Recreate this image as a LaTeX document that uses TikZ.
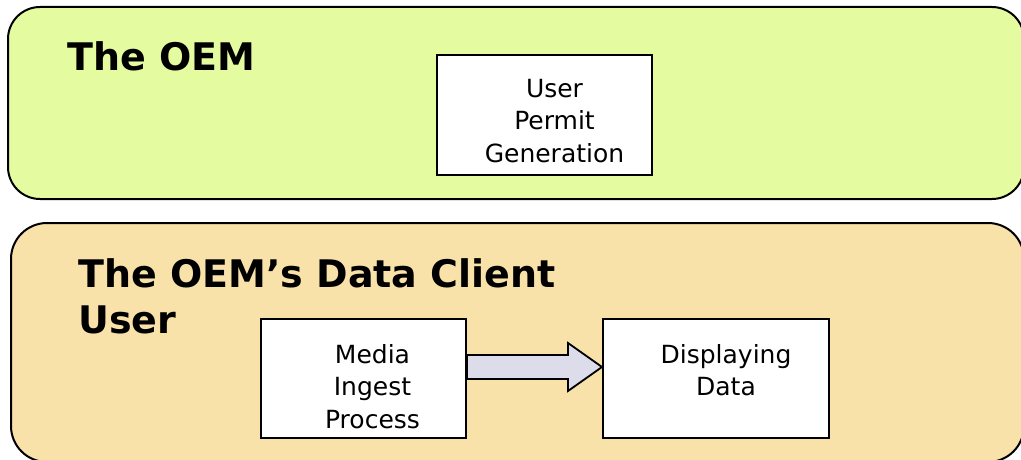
\documentclass[tikz,border=0pt]{standalone}
\usepackage{fontspec}
\setmainfont{DejaVu Sans}
\usetikzlibrary{calc}
\definecolor{oemgreen}{RGB}{229,251,160}
\definecolor{clientbeige}{RGB}{249,226,170}
\definecolor{arrowfill}{RGB}{221,220,234}
\tikzset{
  outerbox/.style={draw=black, line width=2pt, inner sep=0pt},
  innerbox/.style={draw=black, line width=2pt, fill=white, inner sep=0pt},
  boxtext/.style={inner sep=0pt, align=center, font=\fontsize{25}{32.5}\selectfont},
  titletext/.style={inner sep=0pt, align=left, anchor=base west, font=\bfseries\fontsize{38}{46}\selectfont},
  blockarrow/.style={draw=black, line width=1.8pt, fill=arrowfill, line join=miter}
}
\begin{document}
\begin{tikzpicture}[x=1pt, y=-1pt]
\useasboundingbox (0,0) rectangle (1021,460);
\clip (0,0) rectangle (1021,460);
\fill[white] (0,0) rectangle (1021,460);

% outer containers
\node[outerbox, fill=oemgreen, rounded corners=32pt, minimum width=1016pt, minimum height=192pt] (oem) at (516,103) {};
\node[outerbox, fill=clientbeige, rounded corners=36pt, minimum width=1013pt, minimum height=239pt] (client) at (517.5,342.5) {};

% titles
\node[titletext] (oemtitle) at (67,71) {The OEM};
\node[titletext] (clienttitle) at (78,333) {The OEM’s Data Client\\User};

% inner boxes
\node[innerbox, minimum width=215pt, minimum height=120pt] (upg) at (544.5,115) {};
\node[innerbox, minimum width=205pt, minimum height=119pt] (media) at (363.5,378.5) {};
\node[innerbox, minimum width=226pt, minimum height=119pt] (disp) at (716,378.5) {};

% inner texts
\node[boxtext, anchor=north] (upgtext) at ($(upg.north)+(10,25)$) {User\\Permit\\Generation};
\node[boxtext, anchor=north] (mediatext) at ($(media.north)+(9,26)$) {Media\\Ingest\\Process};
\node[boxtext, anchor=north] (disptext) at ($(disp.north)+(10,26)$) {Displaying\\Data};

% block arrow from media to disp
\coordinate (A) at ($(media.east)+(0,-11.5)$);
\coordinate (B) at ($(disp.west)+(0,-11.5)$);
\draw[blockarrow] ($(A)+(0,-12)$) -- ($(B)+(-34,-12)$) -- ($(B)+(-34,-24)$) -- (B)
  -- ($(B)+(-34,24)$) -- ($(B)+(-34,12)$) -- ($(A)+(0,12)$) -- cycle;
\end{tikzpicture}
\end{document}
